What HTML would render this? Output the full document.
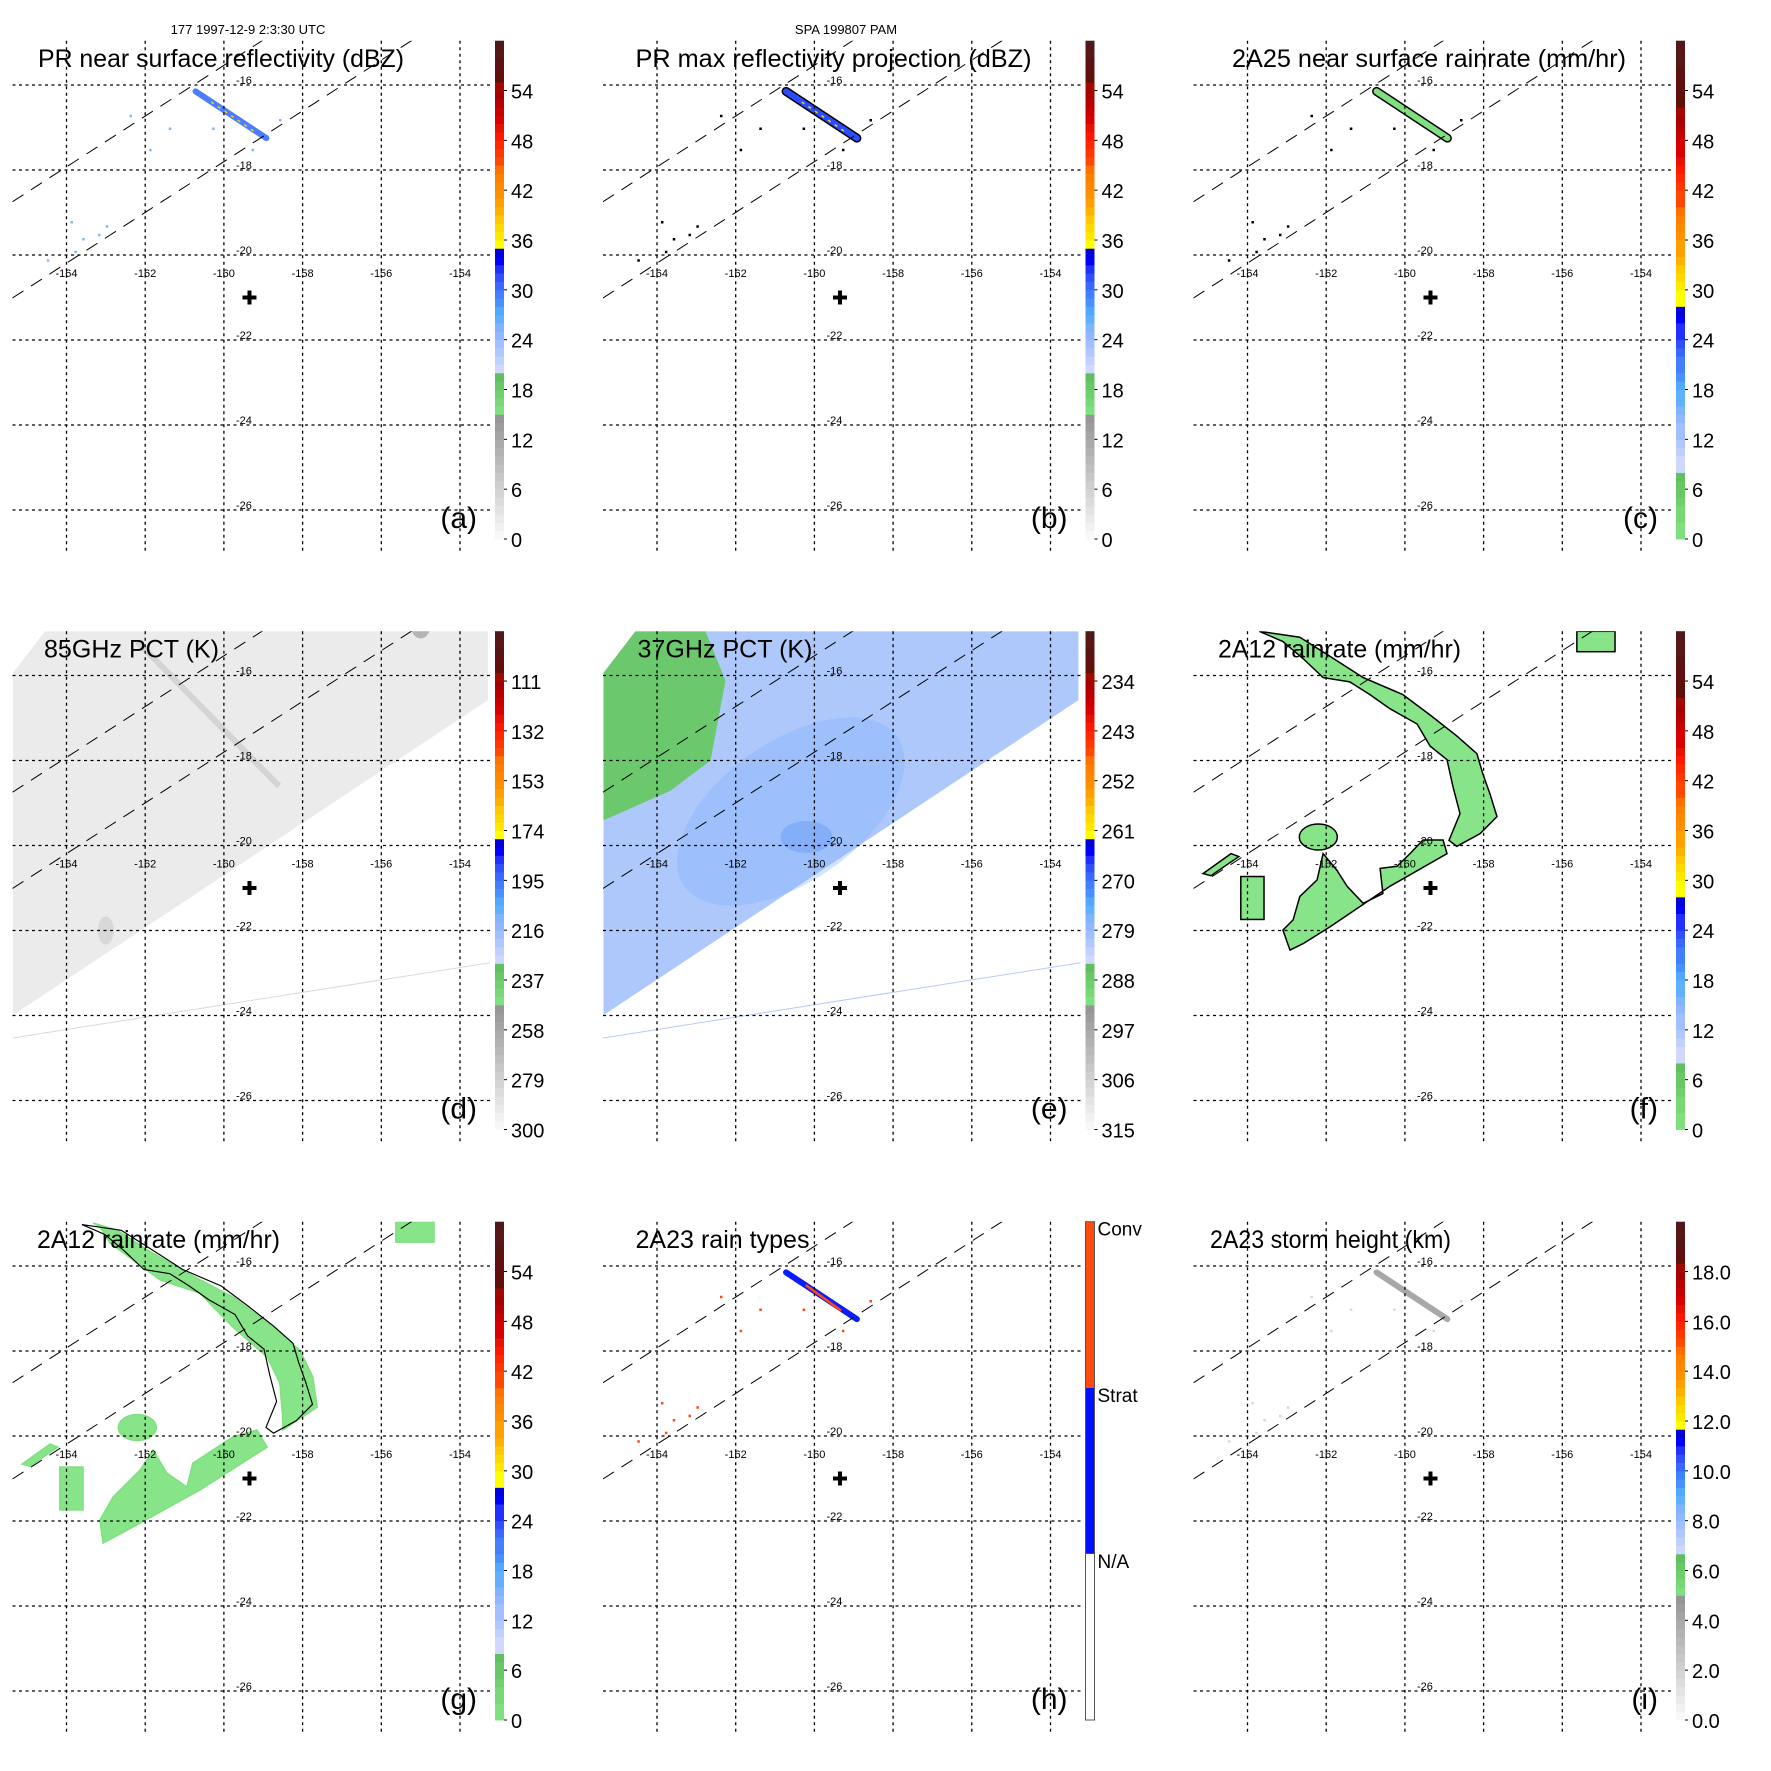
<!DOCTYPE html>
<html><head><meta charset="utf-8"><style>
html,body{margin:0;padding:0;background:#fff}
svg{display:block}
text{font-family:"Liberation Sans",Arial,sans-serif}
</style></head><body>
<svg id="fig" xmlns="http://www.w3.org/2000/svg" width="1771" height="1771" viewBox="0 0 1771 1771">
<text x="248" y="34" font-size="13" text-anchor="middle">177 1997-12-9 2:3:30 UTC</text>
<text x="846" y="34" font-size="13" text-anchor="middle">SPA 199807 PAM</text>
</svg>
<script>
// ---- data ----
const latTicks = [-16,-18,-20,-22,-24,-26];
const lonTicks = [-164,-162,-160,-158,-156,-154];
const labRefl = ["0","6","12","18","24","30","36","42","48","54"];
const labD = ["300","279","258","237","216","195","174","153","132","111"];
const labE = ["315","306","297","288","279","270","261","252","243","234"];
const labI = ["0.0","2.0","4.0","6.0","8.0","10.0","12.0","14.0","16.0","18.0"];
const swathLon = [-165.36,-164.55,-153.29,-153.29,-165.36];
const swathLat = [-15.94,-14.96,-14.96,-16.58,-23.99];
const greenELon = [-165.36,-164.55,-162.77,-162.26,-162.64,-163.66,-165.36];
const greenELat = [-15.94,-14.96,-14.96,-16.12,-18.0,-18.71,-19.41];
const fArcLon = [-163.70,-162.67,-161.90,-161.06,-160.05,-159.36,-158.68,-158.17,-158.02,-157.84,-157.66,-158.09,-158.68,-158.88,-158.60,-158.78,-158.93,-159.36,-159.69,-160.38,-160.89,-161.40,-162.08,-162.59,-163.10];
const fArcLat = [-14.96,-15.10,-15.55,-16.05,-16.45,-16.93,-17.42,-17.84,-18.31,-18.78,-19.32,-19.72,-20.02,-19.88,-19.25,-18.61,-17.98,-17.66,-17.14,-16.78,-16.45,-16.15,-16.05,-15.60,-15.20];
const fSouthLon = [-162.59,-161.90,-160.38,-158.93,-159.03,-159.54,-159.87,-160.20,-160.63,-160.56,-161.06,-161.47,-161.73,-162.08,-162.23,-162.67,-162.84,-163.10,-162.92];
const fSouthLat = [-22.31,-21.91,-20.96,-20.19,-19.87,-19.87,-20.19,-20.49,-20.54,-21.13,-21.36,-20.96,-20.58,-20.19,-20.81,-21.20,-21.75,-21.99,-22.46];
const gArcLon = [-163.32,-162.72,-161.95,-160.94,-159.77,-158.75,-158.07,-157.74,-157.63,-158.50,-158.50,-158.58,-158.90,-159.77,-160.61,-161.62,-162.31,-162.89,-163.15];
const gArcLat = [-14.99,-15.15,-15.62,-16.16,-16.73,-17.44,-17.98,-18.61,-19.32,-19.86,-19.62,-18.75,-18.14,-17.44,-16.64,-16.33,-15.86,-15.46,-15.08];
const gSouthLon = [-163.07,-162.13,-160.61,-158.90,-159.16,-159.77,-160.79,-160.94,-161.45,-161.80,-162.13,-162.82,-163.15];
const gSouthLat = [-22.52,-22.05,-21.27,-20.26,-19.86,-20.02,-20.64,-21.20,-20.87,-20.33,-20.80,-21.44,-21.98];
const blobLon = [-164.17,-163.58]; const blobLat = [-20.73,-21.74];
const smallBlobLon = [-165.13,-164.42,-164.22,-164.93];
const smallBlobLat = [-20.66,-20.19,-20.26,-20.71];
const neBlobLon = [-155.63,-154.66]; const neBlobLat = [-14.96,-15.44];
const midBlob = [-162.20,-19.80];
const streakLon = [-160.72,-158.92];
const streakLat = [-16.15,-17.25];
const scatterLon = [-163.9,-163.6,-163.8,-163.2,-164.5,-163.0,-161.4,-161.9,-162.4,-158.6,-159.3,-160.3];
const scatterLat = [-19.2,-19.6,-19.9,-19.5,-20.1,-19.3,-17.0,-17.5,-16.7,-16.8,-17.5,-17.0];
const plusLL = [-159.35,-21.0];

// ---- axis ----
const P = 590.5;
function xOf(lon){return 223.9+(lon+160)*39.35;}
function yOf(lat){return 85+(-16-lat)*42.5;}
const NS="http://www.w3.org/2000/svg";
const fig=document.getElementById('fig');
function el(tag,attrs,parent){const e=document.createElementNS(NS,tag);for(const k in attrs)e.setAttribute(k,attrs[k]);(parent||fig).appendChild(e);return e;}
function pts(lons,lats){return lons.map((l,i)=>xOf(l).toFixed(1)+','+yOf(lats[i]).toFixed(1)).join(' ');}

// ---- palettes ----
function lerp(a,b,t){const pa=[1,3,5].map(i=>parseInt(a.substr(i,2),16)),pb=[1,3,5].map(i=>parseInt(b.substr(i,2),16));return 'rgb('+pa.map((v,i)=>Math.round(v+(pb[i]-v)*t)).join(',')+')';}
const segGray=[];for(let i=0;i<15;i++)segGray.push(lerp('#f8f8f8','#969696',i/14));
const segGreen=['#80e080','#78d878','#70d070','#68c868','#60c060'];
const segBlue=['#d0d8ff','#c0d0ff','#b0c8ff','#a0c0ff','#90b8ff','#80b4ff','#60b0ff','#50a8ff','#4890ff','#4080ff','#3868ff','#3050ff','#2030ff','#0000ff','#0000d8'];
const segYel=['#ffff00','#ffe800','#ffd800','#ffc800','#ffb000','#ffa000','#ff9000','#ff8800','#ff8000','#ff7000'];
const segRed=['#ff4800','#ff3800','#ff2800','#ff1800','#e81000','#d80000','#c80000','#b80000','#a80000','#a00800'];
const segBrown=['#601008','#601010','#581410','#581818','#501818'];
function palette(type){
  const segs = type==='rain' ? [[segGreen,8],[segBlue,20],[segYel,12],[segRed,12],[segBrown,8]]
                             : [[segGray,15],[segGreen,5],[segBlue,15],[segYel,10],[segRed,10],[segBrown,5]];
  const out=[];segs.forEach(([c,n])=>{for(let i=0;i<n;i++)out.push(c[Math.floor(i/n*c.length)]);});return out;
}

// ---- panels ----
const panels=[
 {id:'a',title:'PR near surface reflectivity (dBZ)',tx:38,tw:366,bar:'refl',labs:labRefl,streak:'#4a7dff',sc:'#7fb8ff'},
 {id:'b',title:'PR max reflectivity projection (dBZ)',tx:45,tw:396,bar:'refl',labs:labRefl,streak:'#2a4cff',sc:'#000',outline:true},
 {id:'c',title:'2A25 near surface rainrate (mm/hr)',tx:51,tw:394,bar:'rain',labs:labRefl,streak:'#80e080',sc:'#000',outline:true},
 {id:'d',title:'85GHz PCT (K)',tx:44,tw:175,bar:'refl',labs:labD,swath:'#ebebeb'},
 {id:'e',title:'37GHz PCT (K)',tx:47,tw:175,bar:'refl',labs:labE,swath:'#aec8fb'},
 {id:'f',title:'2A12 rainrate (mm/hr)',tx:37,tw:243,bar:'rain',labs:labRefl,rain:'f'},
 {id:'g',title:'2A12 rainrate (mm/hr)',tx:37,tw:243,bar:'rain',labs:labRefl,rain:'g'},
 {id:'h',title:'2A23 rain types',tx:45,tw:174,bar:'types',streak:'#0a1cff',sc:'#ff4a10',redcore:true},
 {id:'i',title:'2A23 storm height (km)',tx:29,tw:241,bar:'refl',labs:labI,streak:'#a8a8a8',sc:'#d8d8d8'}
];
const barTop=40.7,barBot=539,barX=495,barW=9;

panels.forEach((p,idx)=>{
  const c=idx%3,r=Math.floor(idx/3);
  const g=el('g',{transform:`translate(${(c*P).toFixed(1)},${(r*P).toFixed(1)})`});
  
  
  const clipId='clip'+p.id;
  const cp=el('clipPath',{id:clipId},g);el('rect',{x:12.5,y:barTop,width:478,height:511},cp);
  const map=el('g',{'clip-path':`url(#${clipId})`},g);
  
  
  if(p.swath){
    const sw=el('polygon',{points:pts(swathLon,swathLat),fill:p.swath},map);
    
    
    if(p.id==='e'){
      el('ellipse',{cx:xOf(-160.6),cy:yOf(-19.2),rx:130,ry:70,fill:'#7eb2ff',opacity:0.35,transform:`rotate(-35 ${xOf(-160.6)} ${yOf(-19.2)})`},map);
      el('ellipse',{cx:xOf(-160.2),cy:yOf(-19.8),rx:26,ry:16,fill:'#5a8cf0',opacity:0.35},map);
      el('ellipse',{cx:xOf(-154.9),cy:yOf(-14.7),rx:12,ry:9,fill:'#2030e0'},map);
      const gr=el('polygon',{points:pts(greenELon,greenELat),fill:'#6cc86c'},map);
      
      
    } else {
      el('line',{x1:xOf(-162.2),y1:yOf(-15.2),x2:xOf(-158.6),y2:yOf(-18.6),stroke:'#d4d4d4','stroke-width':6},map);
      el('ellipse',{cx:xOf(-155.0),cy:yOf(-14.8),rx:10,ry:14,fill:'#b4b4b4'},map);
      el('ellipse',{cx:xOf(-163.0),cy:yOf(-22.0),rx:8,ry:14,fill:'#d8d8d8'},map);
    }
    const tl=el('line',{x1:12.5,y1:yOf(-24.53),x2:490,y2:yOf(-22.76),stroke:p.id==='e'?'#b8c8ff':'#d8d8e4','stroke-width':1},map);
    
    
  }
  if(p.rain){
    const A=p.rain==='f'?[fArcLon,fArcLat,fSouthLon,fSouthLat]:[gArcLon,gArcLat,gSouthLon,gSouthLat];
    const st=p.rain==='f'?'#000':'#80e080';
    const arc=el('polygon',{points:pts(A[0],A[1]),fill:'#88e488',stroke:st,'stroke-width':1.5},map);
    
    
    const so=el('polygon',{points:pts(A[2],A[3]),fill:'#88e488',stroke:st,'stroke-width':1.5},map);
    
    
    el('ellipse',{cx:xOf(midBlob[0]),cy:yOf(midBlob[1]),rx:19,ry:13,fill:'#88e488',stroke:st,'stroke-width':1.5},map);
    el('rect',{x:xOf(blobLon[0]),y:yOf(blobLat[0]),width:xOf(blobLon[1])-xOf(blobLon[0]),height:yOf(blobLat[1])-yOf(blobLat[0]),fill:'#88e488',stroke:st,'stroke-width':1.5},map);
    el('polygon',{points:pts(smallBlobLon,smallBlobLat),fill:'#88e488',stroke:st,'stroke-width':1.5},map);
    el('rect',{x:xOf(neBlobLon[0]),y:yOf(neBlobLat[0]),width:xOf(neBlobLon[1])-xOf(neBlobLon[0]),height:yOf(neBlobLat[1])-yOf(neBlobLat[0]),fill:'#88e488',stroke:st,'stroke-width':1.5},map);
    if(p.rain==='g'){
      const inner=el('polygon',{points:pts(fArcLon,fArcLat),fill:'none',stroke:'#000','stroke-width':1.2,transform:'translate(6,4) scale(0.97)'},map);
      
      
    }
  }
  if(p.streak){
    scatterLon.forEach((l,i)=>{
      const d=el('rect',{x:xOf(l),y:yOf(scatterLat[i]),width:2.5,height:2.5,fill:p.sc},map);
      
      
    });
    if(p.outline) el('line',{x1:xOf(streakLon[0]),y1:yOf(streakLat[0]),x2:xOf(streakLon[1]),y2:yOf(streakLat[1]),stroke:'#000','stroke-width':9,'stroke-linecap':'round'},map);
    const s=el('line',{x1:xOf(streakLon[0]),y1:yOf(streakLat[0]),x2:xOf(streakLon[1]),y2:yOf(streakLat[1]),stroke:p.streak,'stroke-width':6,'stroke-linecap':'round'},map);
    
    
    if(p.redcore) el('line',{x1:xOf(streakLon[0]+0.5),y1:yOf(streakLat[0]-0.3),x2:xOf(streakLon[1]-0.4),y2:yOf(streakLat[1]+0.2),stroke:'#ff4a10','stroke-width':2.5},map);
    if(p.id==='a'||p.id==='b') el('line',{x1:xOf(streakLon[0]+0.4),y1:yOf(streakLat[0]-0.25),x2:xOf(streakLon[1]-0.3),y2:yOf(streakLat[1]+0.15),stroke:'#ffd000','stroke-width':1.5,'stroke-dasharray':'3 5'},map);
  }
  latTicks.forEach(lat=>{
    const l=el('line',{x1:12.5,y1:yOf(lat),x2:490,y2:yOf(lat),stroke:'#000','stroke-width':1.3,'stroke-dasharray':'3 3.5'},g);
    
    
    const t=el('text',{x:236,y:yOf(lat)-1,'font-size':11},g);t.textContent=String(lat);
    
    
  });
  lonTicks.forEach(lon=>{
    const l=el('line',{x1:xOf(lon),y1:barTop,x2:xOf(lon),y2:551,stroke:'#000','stroke-width':1.3,'stroke-dasharray':'3 3.5'},g);
    
    
    const t=el('text',{x:xOf(lon),y:277,'font-size':11,'text-anchor':'middle'},g);t.textContent=String(lon);
    
    
  });
  [[201.7,0],[298,1]].forEach(([y0])=>{
    const x1=12.5,x2=490,y2=y0-(x2-x1)*0.645;
    const l=el('line',{x1:x1,y1:y0,x2:x2,y2:y2,stroke:'#000','stroke-width':1,'stroke-dasharray':'13 9'},map);
    
    
  });
  const px=xOf(plusLL[0]),py=yOf(plusLL[1]);
  const pl=el('path',{d:`M${px-7},${py}H${px+7}M${px},${py-7}V${py+7}`,stroke:'#000','stroke-width':4},g);
  
  
  const tt=el('text',{x:p.tx,y:67,'font-size':25,textLength:p.tw,lengthAdjust:'spacingAndGlyphs'},g);tt.textContent=p.title;
  
  
  const lt=el('text',{x:477,y:528,'font-size':30,'text-anchor':'end'},g);lt.textContent='('+p.id+')';
  
  
  const cb=el('g',{},g);
  
  
  const H=barBot-barTop;
  if(p.bar==='types'){
    const cats=[['Conv','#ff4a10'],['Strat','#0010ff'],['N/A','#ffffff']];
    cats.forEach((cc,i)=>{
      const y=barTop+i*H/3;
      const rct=el('rect',{x:barX,y:y,width:barW,height:H/3,fill:cc[1]},cb);
      
      
      const t=el('text',{x:barX+12,y:y+14,'font-size':19},cb);t.textContent=cc[0];
      
      
    });
    el('rect',{x:barX,y:barTop,width:barW,height:H,fill:'none',stroke:'#555','stroke-width':1},cb);
  } else {
    const pal=palette(p.bar);
    pal.forEach((col,i)=>{
      el('rect',{x:barX,y:barBot-(i+1)*H/60,width:barW,height:H/60+0.4,fill:col},cb);
    });
    p.labs.forEach((s,k)=>{
      const y=barBot-k*6*H/60;
      el('line',{x1:barX+barW,y1:y,x2:barX+barW+3,y2:y,stroke:'#000','stroke-width':1},cb);
      const t=el('text',{x:barX+16,y:y+8,'font-size':20},cb);t.textContent=s;
      
      
    });
  }
});
</script>
</body></html>
